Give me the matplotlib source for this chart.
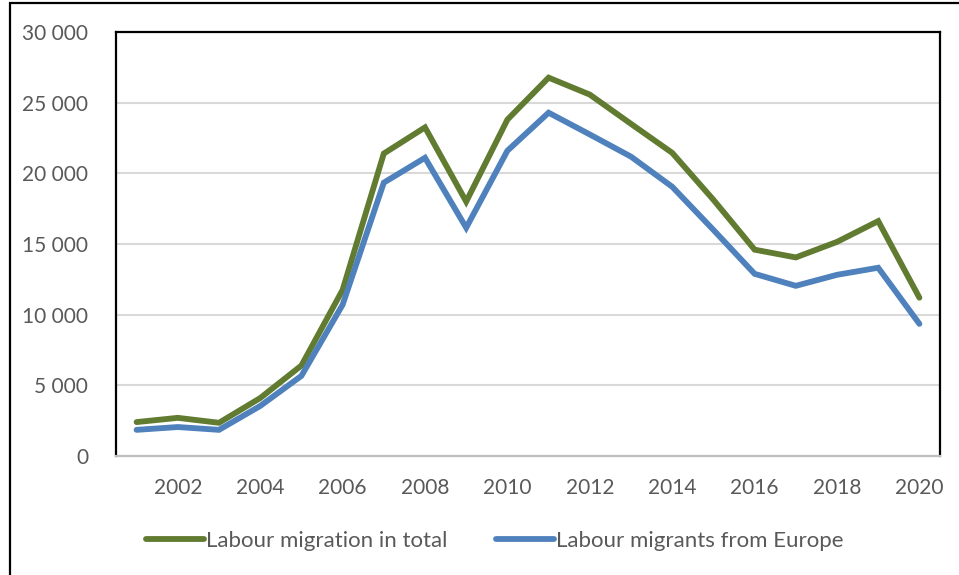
import matplotlib.pyplot as plt
from matplotlib.patches import Rectangle
from matplotlib.ticker import FuncFormatter, MultipleLocator

years = list(range(2001, 2021))
total = [2400, 2700, 2350, 4100, 6400, 11750, 21400, 23250, 18000, 23800,
         26770, 25570, 23500, 21450, 18130, 14600, 14050, 15150, 16620, 11200]
europe = [1850, 2050, 1850, 3540, 5670, 10700, 19340, 21100, 16150, 21600,
          24290, 22750, 21180, 19050, 16000, 12890, 12040, 12820, 13320, 9350]
series_names = ['Labour migration in total', 'Labour migrants from Europe']

green = '#617b30'
blue = '#4f81bd'
grey_txt = '#595959'

plt.rcParams['font.family'] = ['Lato', 'DejaVu Sans']

fig = plt.figure(figsize=(9.59, 5.75), dpi=100)
W, H = 959, 575
ax = fig.add_axes([116 / W, 1 - 456 / H, (940 - 116) / W, (456 - 32) / H])

ax.plot(years, total, color=green, lw=4.2, solid_joinstyle='miter',
        solid_capstyle='round', label=series_names[0])
ax.plot(years, europe, color=blue, lw=4.2, solid_joinstyle='miter',
        solid_capstyle='round', label=series_names[1])

ax.set_xlim(2000.5, 2020.5)
ax.set_ylim(0, 30000)
ax.set_xticks(years[1::2])
ax.yaxis.set_major_locator(MultipleLocator(5000))
ax.yaxis.set_major_formatter(FuncFormatter(lambda v, p: f'{int(v):,}'.replace(',', ' ')))
ax.tick_params(length=0, labelsize=15, colors=grey_txt)
ax.tick_params(axis='y', pad=20)
ax.tick_params(axis='x', pad=16)
ax.grid(axis='y', color='#d9d9d9', lw=1.5)
ax.set_axisbelow(True)

for side in ('top', 'left', 'right'):
    ax.spines[side].set_color('black')
    ax.spines[side].set_linewidth(1.6)
ax.spines['bottom'].set_color('#bfbfbf')
ax.spines['bottom'].set_linewidth(1.6)

leg = fig.legend(loc='center', bbox_to_anchor=(495 / W, 1 - 541 / H), ncol=2,
                 frameon=False, fontsize=16, handlelength=2.6, handletextpad=0.1,
                 columnspacing=2.2, labelcolor=grey_txt)
for line in leg.get_lines():
    line.set_solid_capstyle('round')

# outer frame around the chart
fig.add_artist(Rectangle((10 / W, -0.1), 1.2, 1 - 3 / H + 0.1,
                         transform=fig.transFigure, fill=False,
                         edgecolor='black', lw=1.6))

fig.savefig('out.png', dpi=100)
